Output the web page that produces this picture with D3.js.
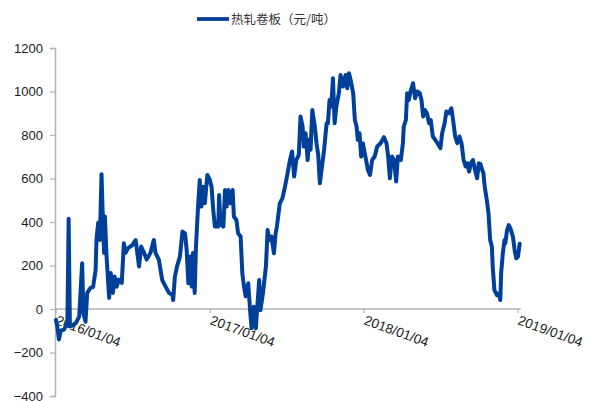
<!DOCTYPE html>
<html><head><meta charset="utf-8">
<script src="https://cdn.jsdelivr.net/npm/d3@7/dist/d3.min.js"></script>
<style>body{margin:0;background:#fff}svg{display:block}</style>
</head><body>
<svg id="chart" width="591" height="401"></svg>
<script>
const seriesName = "热轧卷板（元/吨）";
const yTicks = [-400, -200, 0, 200, 400, 600, 800, 1000, 1200];
const xTickDates = ["2016-01-04", "2017-01-04", "2018-01-04", "2019-01-04"];
const xTickLabels = ["2016/01/04", "2017/01/04", "2018/01/04", "2019/01/04"];
const dates = [
"2016-01-04","2016-01-07","2016-01-11","2016-01-15","2016-01-23","2016-01-31","2016-02-03","2016-02-06","2016-02-12","2016-02-20",
"2016-02-28","2016-03-06","2016-03-09","2016-03-14","2016-03-18","2016-03-26","2016-04-01","2016-04-07","2016-04-09","2016-04-13",
"2016-04-17","2016-04-21","2016-04-24","2016-04-27","2016-04-29","2016-05-03","2016-05-09","2016-05-13","2016-05-18","2016-05-22",
"2016-05-27","2016-06-01","2016-06-08","2016-06-13","2016-06-17","2016-06-23","2016-07-03","2016-07-11","2016-07-19","2016-07-24",
"2016-07-31","2016-08-06","2016-08-15","2016-08-23","2016-08-27","2016-09-04","2016-09-12","2016-09-20","2016-09-28","2016-10-06",
"2016-10-08","2016-10-12","2016-10-17","2016-10-24","2016-10-30","2016-11-05","2016-11-09","2016-11-13","2016-11-17","2016-11-21",
"2016-11-24","2016-11-28","2016-12-01","2016-12-06","2016-12-10","2016-12-14","2016-12-18","2016-12-22","2016-12-28","2017-01-03",
"2017-01-07","2017-01-11","2017-01-15","2017-01-23","2017-01-25","2017-01-28","2017-02-04","2017-02-08","2017-02-12","2017-02-16",
"2017-02-21","2017-02-26","2017-03-01","2017-03-07","2017-03-11","2017-03-17","2017-03-21","2017-03-25","2017-03-29","2017-04-04",
"2017-04-09","2017-04-12","2017-04-17","2017-04-22","2017-04-25","2017-04-30","2017-05-03","2017-05-09","2017-05-16","2017-05-20",
"2017-05-24","2017-05-29","2017-06-04","2017-06-08","2017-06-11","2017-06-18","2017-06-24","2017-06-30","2017-07-06","2017-07-12",
"2017-07-17","2017-07-22","2017-07-27","2017-08-02","2017-08-06","2017-08-11","2017-08-14","2017-08-18","2017-08-23","2017-08-26",
"2017-08-30","2017-09-03","2017-09-09","2017-09-13","2017-09-17","2017-09-21","2017-09-26","2017-10-01","2017-10-07","2017-10-10",
"2017-10-14","2017-10-18","2017-10-22","2017-10-26","2017-10-30","2017-11-05","2017-11-09","2017-11-15","2017-11-21","2017-11-25",
"2017-11-29","2017-12-03","2017-12-09","2017-12-13","2017-12-17","2017-12-20","2017-12-24","2017-12-28","2018-01-01","2018-01-07",
"2018-01-13","2018-01-18","2018-01-23","2018-01-29","2018-02-04","2018-02-12","2018-02-20","2018-02-26","2018-03-02","2018-03-06",
"2018-03-11","2018-03-16","2018-03-21","2018-03-25","2018-04-01","2018-04-06","2018-04-08","2018-04-13","2018-04-16","2018-04-20",
"2018-04-24","2018-04-30","2018-05-05","2018-05-10","2018-05-16","2018-05-20","2018-05-24","2018-05-28","2018-06-02","2018-06-07",
"2018-06-11","2018-06-16","2018-06-22","2018-06-27","2018-07-04","2018-07-08","2018-07-14","2018-07-18","2018-07-24","2018-07-30",
"2018-08-04","2018-08-08","2018-08-13","2018-08-18","2018-08-23","2018-08-28","2018-09-02","2018-09-06","2018-09-10","2018-09-14",
"2018-09-19","2018-09-24","2018-09-29","2018-10-03","2018-10-07","2018-10-11","2018-10-14","2018-10-17","2018-10-22","2018-10-26",
"2018-10-30","2018-11-03","2018-11-05","2018-11-09","2018-11-15","2018-11-19","2018-11-23","2018-11-25","2018-11-29","2018-12-03",
"2018-12-05","2018-12-09","2018-12-13","2018-12-17","2018-12-23","2018-12-27","2018-12-31","2019-01-04","2019-01-08"
];
const values = [
-50,-80,-140,-100,-95,-65,415,-80,-75,-65,
-35,210,-18,-58,74,97,101,179,317,396,
317,620,425,258,425,241,51,165,74,149,
103,135,120,302,258,280,294,317,195,287,
258,227,258,317,258,227,133,103,74,66,
41,149,195,241,356,348,271,118,241,103,
258,74,287,471,593,471,562,486,616,593,
562,455,379,379,524,394,379,547,471,547,
486,547,425,409,348,333,164,103,58,118,
-20,-89,10,-89,-5,133,-5,74,195,363,
317,333,256,348,379,486,509,560,620,685,
724,609,685,709,885,839,747,808,685,778,
732,915,839,762,709,578,655,732,854,854,
961,931,1061,854,931,992,1076,1023,1076,1015,
1084,1053,992,869,839,777,808,701,762,701,
639,616,685,701,747,762,790,762,701,601,
701,685,586,701,685,762,839,869,992,961,
1000,1038,969,1000,992,961,885,915,900,854,
869,793,777,762,739,808,854,908,900,923,
854,793,762,793,762,685,655,670,632,670,
685,639,601,670,666,639,624,563,501,440,
317,287,195,87,64,71,41,164,256,317,
302,363,386,371,333,271,233,241,300
];

const parse = d3.timeParse("%Y-%m-%d");
const data = dates.map((d, i) => ({date: parse(d), value: values[i]}));

const svg = d3.select("#chart");
const x = d3.scaleTime()
  .domain([parse(xTickDates[0]), parse(xTickDates[3])])
  .range([56, 518]);
const y = d3.scaleLinear().domain([-400, 1200]).range([396, 48]);

const axisColor = "#b3b3b3";
const font = "'Liberation Sans', Arial, sans-serif";

// Y axis
const yAxis = svg.append("g").attr("transform", "translate(55,0)")
  .call(d3.axisLeft(y).tickValues(yTicks).tickSize(5).tickPadding(7).tickFormat(d3.format("d")));
yAxis.select(".domain").attr("stroke", axisColor).attr("stroke-width", 1.5);
yAxis.selectAll(".tick line").attr("stroke", axisColor).attr("stroke-width", 1.2);
yAxis.selectAll(".tick text").attr("font-family", font).attr("font-size", 13).attr("fill", "#1a1a1a");

// X axis at y=0
const xEnd = x(data[data.length - 1].date) + 1;
svg.append("line").attr("x1", 55).attr("x2", xEnd).attr("y1", y(0)).attr("y2", y(0))
  .attr("stroke", axisColor).attr("stroke-width", 1.5);
const xt = svg.append("g");
xTickDates.forEach((d, i) => {
  const px = x(parse(d));
  xt.append("line").attr("x1", px).attr("x2", px).attr("y1", y(0)).attr("y2", y(0) + 4)
    .attr("stroke", axisColor).attr("stroke-width", 1.2);
  xt.append("text").text(xTickLabels[i])
    .attr("transform", `translate(${px - 1},${y(0) + 15}) rotate(20)`)
    .attr("font-family", font).attr("font-size", 13.5).attr("fill", "#1a1a1a");
});

// line
const line = d3.line().x(d => x(d.date)).y(d => y(d.value));
svg.append("path").datum(data).attr("d", line)
  .attr("fill", "none").attr("stroke", "#00409a").attr("stroke-width", 4)
  .attr("stroke-linejoin", "round").attr("stroke-linecap", "round");

// legend
svg.append("line").attr("x1", 197).attr("x2", 229).attr("y1", 19).attr("y2", 19)
  .attr("stroke", "#00409a").attr("stroke-width", 3.8);
svg.append("text").text(seriesName).attr("x", 231).attr("y", 23.5)
  .attr("font-family", "'Noto Sans CJK SC', sans-serif").attr("font-size", 12.5).attr("fill", "#333");
</script>
</body></html>
